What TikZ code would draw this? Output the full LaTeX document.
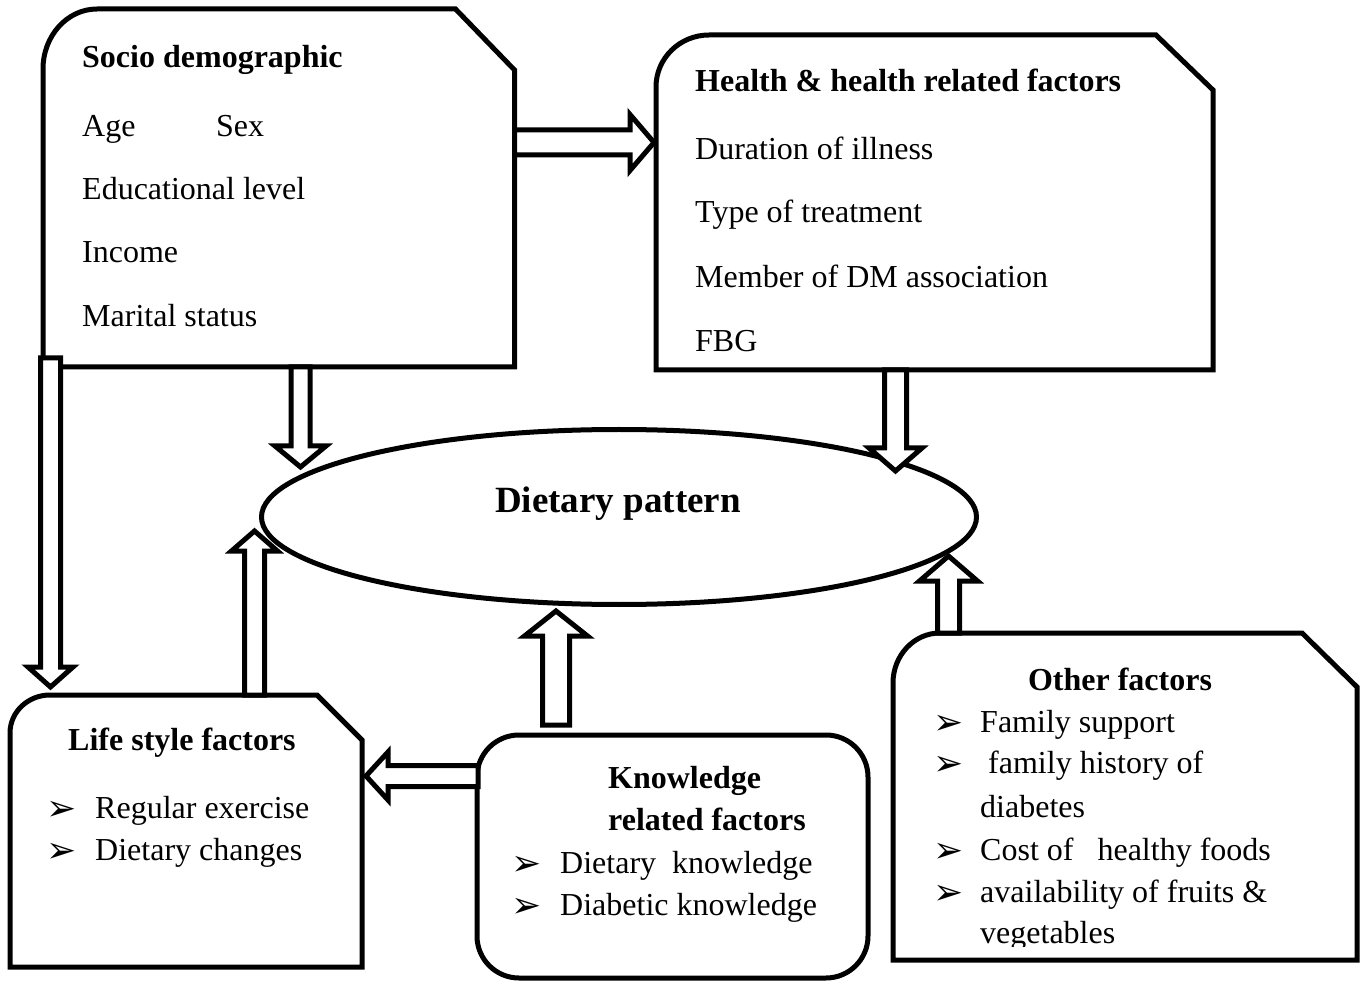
\documentclass[tikz,border=0pt]{standalone}
\usepackage{fontspec}
\setmainfont{Liberation Serif}
\newfontfamily\dejavu{DejaVu Sans}
\usetikzlibrary{calc,shapes.geometric}
\newcommand\snipbox[8]{%
  \draw[boxline] (#1,#4) -- (#1,#2+#6) .. controls (#1,#2+0.4477*#6) and (#1+0.4477*#5,#2) .. (#1+#5,#2)
    -- (#3-#7,#2) -- (#3,#2+#8) -- (#3,#4) -- cycle;}
\newcommand\barrow[5]{%
  \coordinate (bah) at ($(#2)!#5pt!(#1)$);
  \draw[blockarr] ($(#1)!#3pt!90:(#2)$) -- ($(bah)!#3pt!90:(#2)$) -- ($(bah)!#4pt!90:(#2)$) -- (#2)
    -- ($(bah)!#4pt!-90:(#2)$) -- ($(bah)!#3pt!-90:(#2)$) -- ($(#1)!#3pt!-90:(#2)$) -- cycle;}
\begin{document}
\begin{tikzpicture}[x=1pt,y=-1pt,
  boxline/.style={draw, line width=5pt, line join=miter},
  blockarr/.style={draw, fill=white, line width=5pt, line join=miter, miter limit=10},
  txt/.style={anchor=base west, inner sep=0pt, font=\fontsize{32}{38}\selectfont},
  ttl/.style={anchor=base west, inner sep=0pt, font=\fontsize{32}{38}\selectfont\bfseries},
  bul/.style={anchor=base west, inner sep=0pt, font=\dejavu\fontsize{36}{40}\selectfont}]
\useasboundingbox (0,0) rectangle (1361,981);

% boxes
\snipbox{43}{9}{514.5}{367}{54}{60}{59}{61}
\snipbox{656}{35}{1213}{370}{53}{52}{57}{55}
\snipbox{10}{695}{362}{967}{40}{38}{45}{45}
\snipbox{893}{633}{1357}{960}{47}{50}{55}{54}
\draw[boxline, rounded corners=42pt] (477,735) rectangle (868,978);
\node[draw, ellipse, line width=5pt, minimum width=715pt, minimum height=175pt, inner sep=0pt] (diet) at (619,517) {};

% socio demographic
\node[ttl] (sd) at (82,68) {Socio demographic};
\node[txt] (age) at (82,137) {Age};
\node[txt] (sex) at (216,137) {Sex};
\node[txt] (edu) at (82,200) {Educational level};
\node[txt] (inc) at (82,263) {Income};
\node[txt] (mar) at (82,327) {Marital status};

% health
\node[ttl] (hh) at (695,92) {Health \& health related factors};
\node[txt] (dur) at (695,160) {Duration of illness};
\node[txt] (typ) at (695,223) {Type of treatment};
\node[txt] (mem) at (695,288) {Member of DM association};
\node[txt] (fbg) at (695,352) {FBG};

% dietary pattern
\node[anchor=base, inner sep=0pt, font=\fontsize{37}{44}\selectfont\bfseries] (dtxt) at (618,513) {Dietary pattern};

% life style
\node[ttl] (ls) at (68,750) {Life style factors};
\node[bul] (lb1) at (46,820) {➢};
\node[txt] (l1) at (95,818) {Regular exercise};
\node[bul] (lb2) at (46,862) {➢};
\node[txt] (l2) at (95,860) {Dietary changes};

% knowledge
\node[ttl] (kn1) at (608,788) {Knowledge};
\node[ttl] (kn2) at (608,830) {related factors};
\node[bul] (kb1) at (511,875) {➢};
\node[txt] (k1) at (560,873) {Dietary\ \ knowledge};
\node[bul] (kb2) at (511,917) {➢};
\node[txt] (k2) at (560,915) {Diabetic knowledge};

% other
\node[anchor=base, inner sep=0pt, font=\fontsize{32}{38}\selectfont\bfseries] (of) at (1120,690) {Other factors};
\node[bul] (ob1) at (933,734) {➢};
\node[txt] (o1) at (980,732) {Family support};
\node[bul] (ob2) at (933,775) {➢};
\node[txt] (o2) at (988,773) {family history of};
\node[txt] (o3) at (980,817) {diabetes};
\node[bul] (ob3) at (933,862) {➢};
\node[txt] (o4) at (980,860) {Cost of\ \ \ healthy foods};
\node[bul] (ob4) at (933,904) {➢};
\node[txt] (o5) at (980,902) {availability of fruits \&};
\begin{scope}
  \clip (893,900) rectangle (1357,946);
  \node[txt] (o6) at (980,943) {vegetables};
\end{scope}

% arrows
\coordinate (a1s) at (514.5,142.5); \coordinate (a1e) at (654,142.5);
\barrow{a1s}{a1e}{12.5}{28}{24}
\coordinate (a2s) at (300.5,367); \coordinate (a2e) at (300.5,467);
\barrow{a2s}{a2e}{9.5}{25.5}{21}
\coordinate (a3s) at (895.5,370); \coordinate (a3e) at (895.5,471);
\barrow{a3s}{a3e}{11}{26.5}{23}
\coordinate (a4s) at (50.5,358); \coordinate (a4e) at (50.5,687);
\barrow{a4s}{a4e}{10}{22.5}{20}
\coordinate (a5s) at (254.5,695); \coordinate (a5e) at (254.5,531);
\barrow{a5s}{a5e}{10}{23}{20}
\coordinate (a6s) at (556,725); \coordinate (a6e) at (556,611);
\barrow{a6s}{a6e}{13.5}{31.5}{25}
\coordinate (a7s) at (478,776); \coordinate (a7e) at (366,776);
\barrow{a7s}{a7e}{10.5}{24}{22}
\coordinate (a8s) at (948.5,633); \coordinate (a8e) at (948.5,556);
\barrow{a8s}{a8e}{11}{29}{25}
\end{tikzpicture}
\end{document}
